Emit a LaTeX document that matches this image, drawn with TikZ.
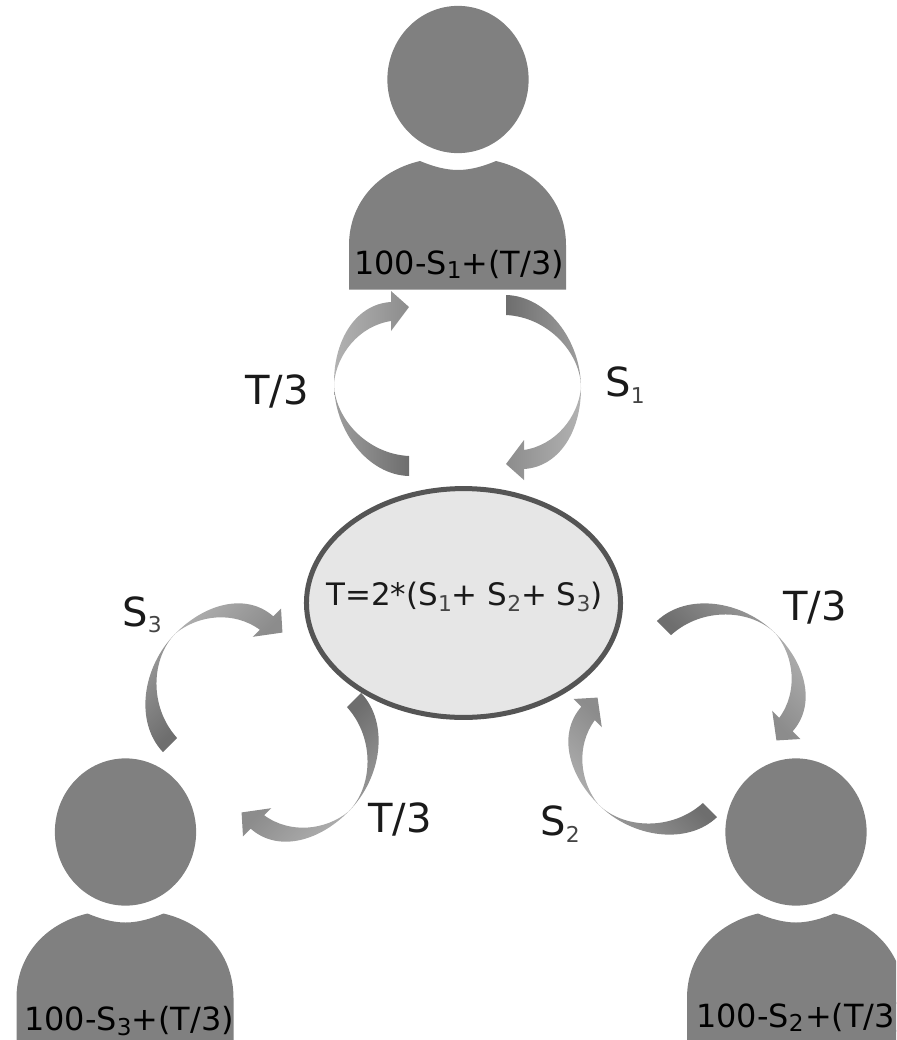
\documentclass[tikz,border=0pt]{standalone}
\usepackage{fontspec}
\setmainfont{DejaVu Sans}
\usetikzlibrary{positioning,shapes.geometric}
\definecolor{persongray}{HTML}{808080}
\definecolor{ringgray}{HTML}{555555}
\definecolor{ellipsegray}{HTML}{E6E6E6}
\definecolor{inkgray}{HTML}{1A1A1A}
\definecolor{subgray}{HTML}{444444}
\newcommand{\idx}[1]{\lower4.5pt\hbox{\fontsize{15.5}{15.5}\selectfont\color{subgray}#1}}
\newcommand{\idxp}[1]{\lower3pt\hbox{\fontsize{16.5}{16.5}\selectfont #1}}
\tikzset{%
	head/.style       = {draw=none, fill=persongray, ellipse, minimum width=3.53cm, minimum height=3.68cm, inner sep=0pt},
	body/.style       = {fill=persongray},
	pool/.style       = {draw=ringgray, line width=0.125cm, fill=ellipsegray, ellipse, minimum width=7.85cm, minimum height=5.72cm, inner sep=0pt},
	poollabel/.style  = {text=inkgray, font=\fontsize{22}{22}\selectfont},
	personlabel/.style= {text=black, font=\fontsize{22.7}{22.7}\selectfont, anchor=west, inner sep=0pt},
	flowlabel/.style  = {text=inkgray, font=\fontsize{28.5}{28.5}\selectfont, inner sep=0pt},
}
% one person: name, centre of the head
\newcommand{\person}[3]{%
	\node[head] (head#1) at (#2,#3) {};
	\fill[body,shift={(#2,#3)}] (-109,210) -- (-109,166) .. controls (-109,125) and (-82,92) .. (-38,81.5)
		.. controls (-25,87) and (-12,90.5) .. (0,90.5) .. controls (12,90.5) and (25,87) .. (38,81.5)
		.. controls (82,92) and (108,125) .. (108,166) -- (108,210) -- cycle;
}
% one bent arrow: middle of the tail, turn
\newcommand{\flowarrow}[3]{%
	\begin{scope}[shift={(#1,#2)},rotate=#3]
		\shade[top color=black!57,bottom color=black!38,shading angle=#3-90]
			(0,10) .. controls (-41,9) and (-75,-35) .. (-75,-83)
			.. controls (-75,-48) and (-42,-12) .. (0,-10) -- cycle;
		\shade[top color=black!45,bottom color=black!30,shading angle=#3-90]
			(-75,-83) .. controls (-75,-128) and (-52,-162) .. (-18,-164) -- (-18,-175) -- (0,-159) -- (-18,-135) -- (-18,-145)
			.. controls (-50,-140) and (-72,-112) .. (-75,-83) -- cycle;
	\end{scope}
}
\begin{document}
\begin{tikzpicture}[x=0.025cm,y=-0.025cm]
		\useasboundingbox (0,0) rectangle (896,1040);
		\clip (0,0) rectangle (896,1040);
		
		\person{top}{458}{79.5}
		\person{left}{125.5}{832}
		\person{right}{796}{832}
		
		\node[pool] (pool) at (463.5,603) {};
		\node[poollabel] (total) at (464.5,597) {T=2*(S\idx{1}+ S\idx{2}+ S\idx{3})};
		
		\flowarrow{409}{466}{0}
		\flowarrow{506}{305}{180}
		\flowarrow{664}{628}{-135}
		\flowarrow{710}{810}{45}
		\flowarrow{170}{745}{-45}
		\flowarrow{354}{700}{135}
		
		\node[personlabel] (moneytop) at (354,264) {100-S\idxp{1}+(T/3)};
		\node[personlabel] (moneyleft) at (24,1021) {100-S\idxp{3}+(T/3)};
		\node[personlabel] (moneyright) at (696,1017) {100-S\idxp{2}\kern1pt+(T/3)};
		
		\node[flowlabel] (give1) at (277,391) {T/3};
		\node[flowlabel] (send1) at (625,385) {S\idx{1}};
		\node[flowlabel] (give2) at (815,607) {T/3};
		\node[flowlabel] (send2) at (560,824) {S\idx{2}};
		\node[flowlabel] (give3) at (400,819) {T/3};
		\node[flowlabel] (send3) at (142,615) {S\idx{3}};
		\end{tikzpicture}
\end{document}
